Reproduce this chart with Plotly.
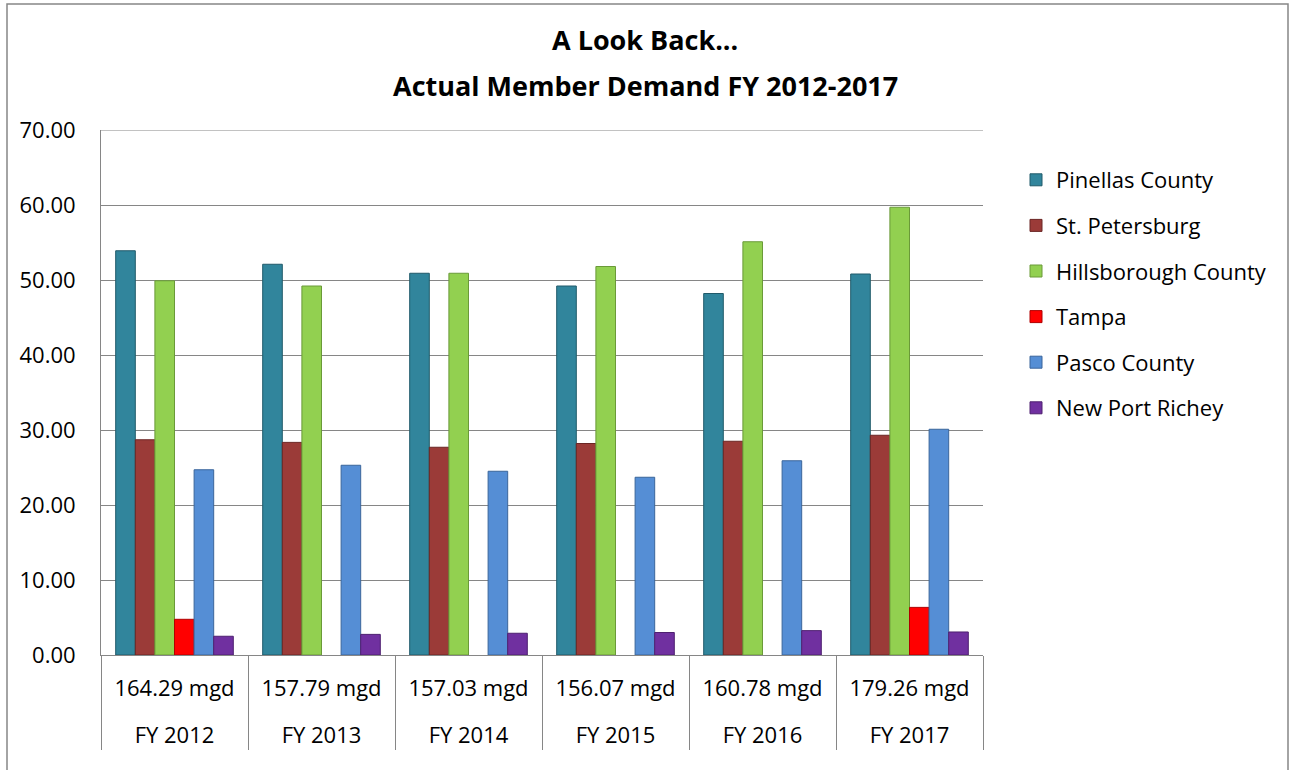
import plotly.graph_objects as go

# dados (mgd)
anos = ["FY 2012", "FY 2013", "FY 2014", "FY 2015", "FY 2016", "FY 2017"]
totais = ["164.29 mgd", "157.79 mgd", "157.03 mgd", "156.07 mgd", "160.78 mgd", "179.26 mgd"]

pinellas = [53.9, 52.1, 50.9, 49.2, 48.2, 50.8]
st_pete = [28.7, 28.35, 27.7, 28.2, 28.5, 29.3]
hillsborough = [49.9, 49.2, 50.9, 51.8, 55.1, 59.7]
tampa = [4.76, None, None, None, None, 6.35]
pasco = [24.7, 25.3, 24.5, 23.7, 25.9, 30.1]
new_port_richey = [2.5, 2.75, 2.9, 3.0, 3.25, 3.07]

series = [
    ("Pinellas County", pinellas, "#31859C", "#205a6a"),
    ("St. Petersburg", st_pete, "#9B3B38", "#6b2624"),
    ("Hillsborough County", hillsborough, "#92D050", "#6a9a38"),
    ("Tampa", tampa, "#FF0000", "#b00000"),
    ("Pasco County", pasco, "#558ED5", "#3a659b"),
    ("New Port Richey", new_port_richey, "#7030A0", "#4e2070"),
]

FONTE = "'Open Sans', Lato, sans-serif"
CINZA = "#868686"

# linha em branco antes do ano para afastar o segundo nível do eixo
anos_rotulo = ["<br>" + a for a in anos]

fig = go.Figure()
for nome, valores, cor, borda in series:
    fig.add_trace(go.Bar(
        x=[anos_rotulo, totais],
        y=valores,
        name=nome,
        legendgroup=nome,
        marker=dict(color=cor, line=dict(color=borda, width=1)),
    ))

W, H = 1289, 770
L, R, T, B = 101, 306, 130, 115
pw, ph = W - L - R, H - T - B

fig.update_layout(
    width=W, height=H,
    margin=dict(l=L, r=R, t=T, b=B),
    paper_bgcolor="white",
    plot_bgcolor="white",
    font=dict(family=FONTE, size=22, color="black"),
    barmode="group",
    bargap=0.2,
    bargroupgap=0,
    showlegend=True,
    legend=dict(
        xref="container", yref="container",
        x=1016 / W, y=1 - 159 / H,
        xanchor="left", yanchor="top",
        font=dict(size=22),
        tracegroupgap=14,
        traceorder="grouped",
        bgcolor="rgba(0,0,0,0)",
    ),
    xaxis=dict(
        type="multicategory",
        showgrid=False,
        showline=True, linecolor=CINZA, linewidth=1,
        showdividers=True, dividercolor=CINZA, dividerwidth=1,
        ticks="",
        ticklabelstandoff=14,
        tickfont=dict(size=22),
    ),
    yaxis=dict(
        range=[0, 70], dtick=10, tickformat=".2f",
        showgrid=True, gridcolor=CINZA, gridwidth=1,
        showline=True, linecolor=CINZA, linewidth=1,
        zeroline=False,
        ticks="", ticklen=0,
        ticklabelstandoff=20,
        tickfont=dict(size=22),
    ),
    annotations=[
        dict(text="<b>A Look Back...</b>", xref="paper", yref="paper",
             x=(645 - L) / pw, y=(H - B - 40) / ph, showarrow=False,
             font=dict(size=27, family=FONTE), xanchor="center", yanchor="middle"),
        dict(text="<b>Actual Member Demand FY 2012-2017</b>", xref="paper", yref="paper",
             x=(645 - L) / pw, y=(H - B - 85) / ph, showarrow=False,
             font=dict(size=27, family=FONTE), xanchor="center", yanchor="middle"),
    ],
    shapes=[
        # moldura externa do gráfico
        dict(type="rect", xref="paper", yref="paper",
             x0=(7 - L) / pw, x1=(1288 - L) / pw,
             y0=(H - B - 780) / ph, y1=(H - B - 4) / ph,
             line=dict(color=CINZA, width=1.5), fillcolor="rgba(0,0,0,0)", layer="below"),
        # linha de grade do topo (70.00), que o plotly omite na borda
        dict(type="line", xref="paper", yref="y", x0=0, x1=1, y0=70, y1=70,
             line=dict(color=CINZA, width=1), layer="below"),
    ],
)

# tira a margem do body para o gráfico ocupar a janela inteira
fig.write_html("out.html", config={"displayModeBar": False},
               post_script="document.body.style.margin='0px';")
